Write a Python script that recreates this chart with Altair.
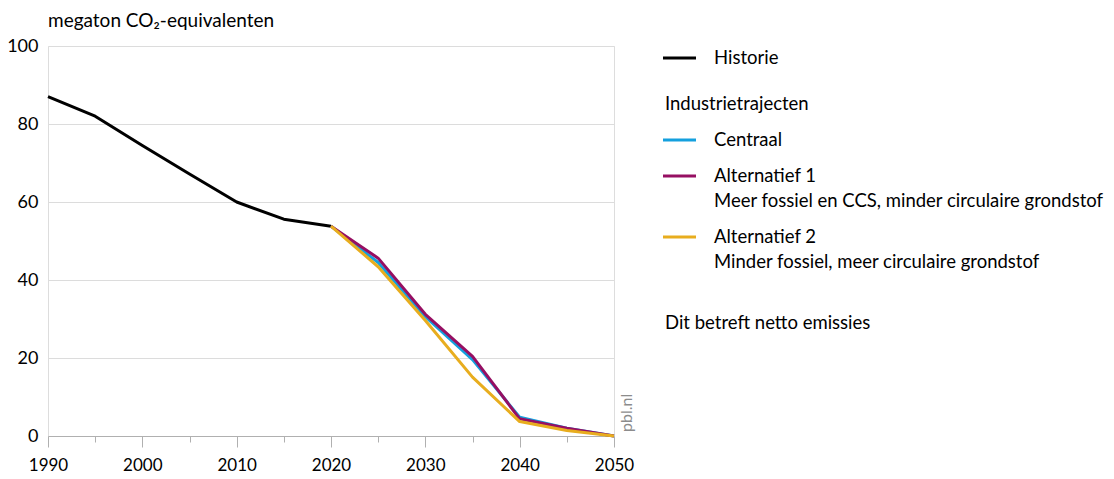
import altair as alt
import pandas as pd

# ---- data ----
hist_years = [1990, 1995, 2000, 2005, 2010, 2015, 2020]
hist_values = [87.0, 82.0, 74.5, 67.2, 60.0, 55.6, 53.8]

scen_years = [2020, 2025, 2030, 2035, 2040, 2045, 2050]
centraal = [53.8, 44.5, 30.6, 19.6, 4.8, 2.0, 0.0]
alternatief1 = [53.8, 45.6, 31.2, 20.4, 4.4, 2.0, 0.0]
alternatief2 = [53.8, 43.4, 29.6, 15.1, 3.7, 1.4, 0.0]

series_names = ["Historie", "Centraal", "Alternatief 1", "Alternatief 2"]
series_colors = ["#000000", "#14a0de", "#960f62", "#e8ad1e"]
series_sub = ["", "", "Meer fossiel en CCS, minder circulaire grondstof",
              "Minder fossiel, meer circulaire grondstof"]

y_ticks = [0, 20, 40, 60, 80, 100]
x_ticks = list(range(1990, 2051, 5))

FONT = "Lato"
FS = 18.5
AFS = 18

rows = []
for yr, v in zip(hist_years, hist_values):
    rows.append({"jaar": yr, "waarde": v, "reeks": "Historie", "o": 0})
for name, vals, o in [("Centraal", centraal, 1), ("Alternatief 1", alternatief1, 2),
                      ("Alternatief 2", alternatief2, 3)]:
    for yr, v in zip(scen_years, vals):
        rows.append({"jaar": yr, "waarde": v, "reeks": name, "o": o})
df = pd.DataFrame(rows)

W, H = 566, 390

lines = alt.Chart(df).mark_line(strokeWidth=3, strokeJoin="round").encode(
    x=alt.X("jaar:Q",
            scale=alt.Scale(domain=[1990, 2050], nice=False, zero=False),
            axis=alt.Axis(values=x_ticks, format="d", title=None, grid=False,
                          labelExpr="datum.value % 10 === 0 ? datum.label : ''",
                          tickSize={"condition": {"test": "datum.value % 10 === 0", "value": 11}, "value": 6},
                          tickColor="#b0b0b0", domainColor="#b0b0b0", tickWidth=1,
                          labelFontSize=17, labelFont=FONT, labelColor="#000000",
                          labelPadding=10, labelFlush=False)),
    y=alt.Y("waarde:Q",
            scale=alt.Scale(domain=[0, 100], nice=False),
            axis=alt.Axis(values=y_ticks, title=None, domain=False, ticks=False,
                          gridColor="#dcdcdc", gridWidth=1,
                          labelFontSize=AFS, labelFont=FONT, labelColor="#000000",
                          labelPadding=10)),
    color=alt.Color("reeks:N", scale=alt.Scale(domain=series_names, range=series_colors), legend=None),
    detail="reeks:N",
    order="o:Q",
)

dummy = pd.DataFrame({"a": [0]})
base = alt.Chart(dummy)

title = base.mark_text(align="left", baseline="middle", font=FONT, fontSize=19, color="#000000").encode(
    x=alt.value(0), y=alt.value(-25), text=alt.value("megaton CO\u2082-equivalenten"))

pbl = base.mark_text(align="left", baseline="middle", angle=270, font=FONT, fontSize=16, color="#8c8c8c").encode(
    x=alt.value(579), y=alt.value(386), text=alt.value("pbl.nl"))

layers = [lines, title, pbl]

LX0, LX1, TX = 615, 648, 666
item_y = {"Historie": 12, "Centraal": 94, "Alternatief 1": 130, "Alternatief 2": 191}
for name, col, sub in zip(series_names, series_colors, series_sub):
    yy = item_y[name]
    layers.append(base.mark_rule(strokeWidth=3).encode(
        x=alt.value(LX0), x2=alt.value(LX1), y=alt.value(yy), color=alt.value(col)))
    layers.append(base.mark_text(align="left", baseline="middle", font=FONT, fontSize=FS, color="#000000").encode(
        x=alt.value(TX), y=alt.value(yy), text=alt.value(name)))
    if sub:
        layers.append(base.mark_text(align="left", baseline="middle", font=FONT, fontSize=FS, color="#000000").encode(
            x=alt.value(TX), y=alt.value(yy + 25), text=alt.value(sub)))

layers.append(base.mark_text(align="left", baseline="middle", font=FONT, fontSize=FS, color="#000000").encode(
    x=alt.value(LX0 + 2), y=alt.value(58), text=alt.value("Industrietrajecten")))
layers.append(base.mark_text(align="left", baseline="middle", font=FONT, fontSize=FS, color="#000000").encode(
    x=alt.value(LX0 + 2), y=alt.value(277), text=alt.value("Dit betreft netto emissies")))

chart = alt.layer(*layers).properties(
    width=W, height=H,
    autosize=alt.AutoSizeParams(type="none"),
    padding={"left": 40, "top": 38, "right": 490, "bottom": 40},
).configure_view(stroke=None).configure(background="white")

chart.save("out.html", embed_options={"renderer": "svg", "actions": False})
